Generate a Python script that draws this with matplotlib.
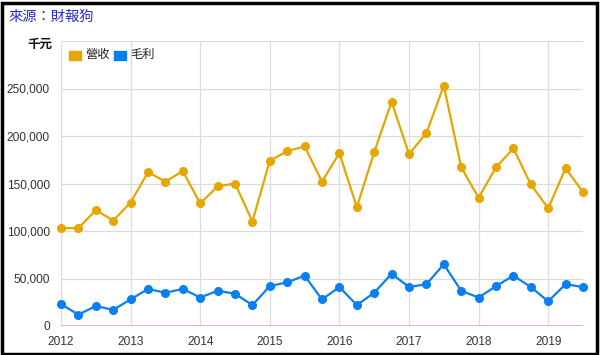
import matplotlib.pyplot as plt
import matplotlib.patches as mpatches
import numpy as np

plt.rcParams["font.family"] = ["Liberation Sans", "Noto Sans CJK TC", "DejaVu Sans"]

# quarterly data, 2012 Q1 .. 2019 Q3 (thousand NTD)
quarters = np.arange(2012, 2019.75, 0.25)
revenue = [103, 103, 122, 111, 130, 162, 152, 163,
           129, 147, 150, 110, 174, 184, 189, 152,
           182, 125, 183, 236, 181, 203, 253, 167,
           135, 167, 187, 149, 124, 166, 141]
gross = [23, 12, 21, 17, 28, 39, 35, 39,
         30, 37, 34, 22, 42, 46, 53, 28,
         41, 22, 35, 55, 41, 44, 65, 37,
         30, 42, 53, 41, 26, 44, 41]
years = list(range(2012, 2020))
series_names = ["營收", "毛利"]
colors = ["#e6a600", "#0a7ff0"]

fig = plt.figure(figsize=(6, 3.55), dpi=100)
ax = fig.add_axes([61 / 600, 1 - 326 / 355, 522 / 600, 285 / 355])

for vals, c in zip([revenue, gross], colors):
    ax.plot(quarters, np.array(vals) * 1000, color=c, lw=1.6,
            marker="o", ms=5.5, clip_on=False, zorder=3)

ax.set_xlim(2012, 2019.5)
ax.set_ylim(0, 300000)
ax.set_xticks(years)
ax.set_xticklabels([str(y) for y in years])
yt = np.arange(0, 300001, 50000)
ax.set_yticks(yt)
ax.set_yticklabels([f"{v:,}" for v in yt[:-1]] + [""])
ax.grid(True, color="#dcdcdc", lw=0.9)
ax.axhline(0, color="#f0a0a8", lw=1.2, zorder=2)
for s in ax.spines.values():
    s.set_visible(False)
ax.tick_params(length=0, labelsize=8.6, labelcolor="#333333")
ax.tick_params(axis="y", pad=8)
ax.tick_params(axis="x", pad=7)

# header texts
fig.text(8 / 600, 1 - 17 / 355, "來源：財報狗", fontsize=10.3, color="#2a2ad0", va="center")
fig.text(40 / 600, 1 - 45 / 355, "千元", fontsize=9, fontweight="bold", color="#111111",
         va="center", ha="center")

# legend
lx = 69
for name, c in zip(series_names, colors):
    fig.patches.append(mpatches.Rectangle((lx / 600, 1 - 60 / 355), 12 / 600, 9.5 / 355,
                                          transform=fig.transFigure, color=c))
    fig.text((lx + 16) / 600, 1 - 55 / 355, name, fontsize=8.8, color="#222222", va="center")
    lx += 45

# outer border
fig.patches.append(mpatches.Rectangle((1.5 / 600, 1.5 / 355), 595 / 600, 351 / 355,
                                      transform=fig.transFigure, fill=False,
                                      edgecolor="black", lw=2.5))

fig.savefig("out.png", dpi=100)
